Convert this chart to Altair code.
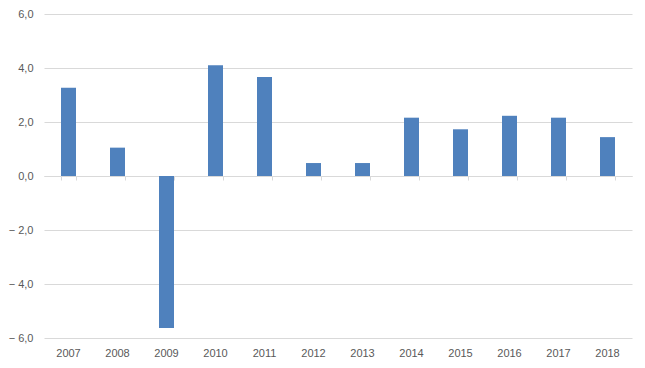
import altair as alt
import pandas as pd

years = ["2007", "2008", "2009", "2010", "2011", "2012",
         "2013", "2014", "2015", "2016", "2017", "2018"]
values = [3.27, 1.05, -5.63, 4.1, 3.67, 0.48, 0.48, 2.16, 1.73, 2.23, 2.16, 1.44]
y_ticks = [-6, -4, -2, 0, 2, 4, 6]

df = pd.DataFrame({"year": years, "value": values})

FONT = "Liberation Sans Narrow, Liberation Sans, Arial, sans-serif"
LABEL_COLOR = "#595959"
GRID = "#d9d9d9"

pin = 1 - 15 / 49
xscale = alt.Scale(paddingInner=pin, paddingOuter=pin / 2)
yscale = alt.Scale(domain=[-6, 6], nice=False, zero=False)

label_expr = ("datum.value < 0 ? '\u2212 ' + replace(format(-datum.value, '.1f'), '.', ',')"
              " : replace(format(datum.value, '.1f'), '.', ',')")

bars = alt.Chart(df).mark_bar(color="#4f81bd").encode(
    x=alt.X("year:N", sort=years, scale=xscale, title=None,
            axis=alt.Axis(orient="bottom", labelAngle=0, domain=False, ticks=False,
                          labelPadding=9, labelFont=FONT, labelFontSize=11,
                          labelColor=LABEL_COLOR, grid=False)),
    y=alt.Y("value:Q", scale=yscale, title=None,
            axis=alt.Axis(values=y_ticks, labelExpr=label_expr, domain=False, ticks=False,
                          grid=True, gridColor=GRID, gridWidth=1, labelPadding=11,
                          labelFont=FONT, labelFontSize=11, labelColor=LABEL_COLOR)),
)

zero_axis = alt.Chart(df).mark_bar(opacity=0).encode(
    x=alt.X("year:N", sort=years, scale=xscale, title=None,
            axis=alt.Axis(orient="bottom", offset=-162, labels=False, ticks=True,
                          tickBand="extent", tickSize=4, tickColor=GRID, domain=True,
                          domainColor=GRID, grid=False)),
    y=alt.Y("value:Q", scale=yscale),
)

chart = alt.layer(zero_axis, bars).resolve_axis(x="independent").properties(
    width=588, height=324,
    autosize=alt.AutoSizeParams(type="none"),
    padding={"left": 36, "top": 6, "right": 5, "bottom": 22},
).configure_view(stroke=None)

chart.save("out.html", embed_options={"renderer": "svg", "actions": False})
